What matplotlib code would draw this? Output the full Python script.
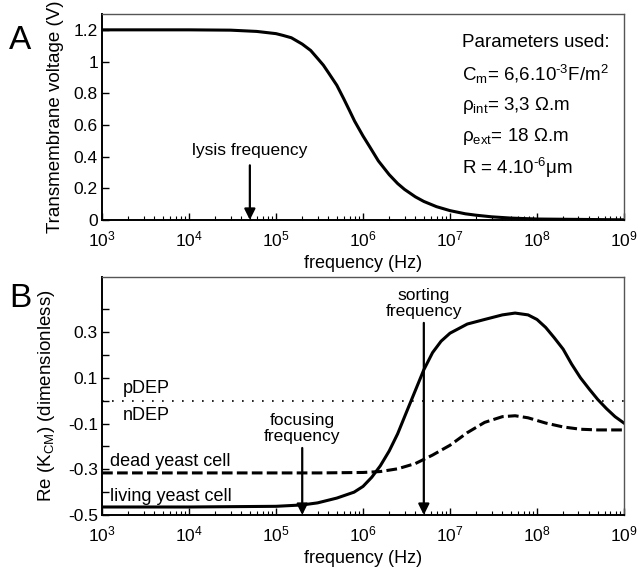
import matplotlib
matplotlib.use("Agg")
import matplotlib.pyplot as plt
import numpy as np
from matplotlib.ticker import LogLocator, NullFormatter

plt.rcParams['font.family'] = ['Liberation Sans', 'DejaVu Sans']
plt.rcParams['mathtext.fontset'] = 'custom'
plt.rcParams['mathtext.rm'] = 'Liberation Sans'
plt.rcParams['mathtext.it'] = 'Liberation Sans:italic'
plt.rcParams['mathtext.bf'] = 'Liberation Sans:bold'

# panel A: transmembrane voltage vs frequency
freq_a = [1e3, 1e4, 3e4, 6e4, 1e5, 1.2e5, 1.5e5, 2e5, 2.5e5, 3e5, 3.5e5,
          4e5, 5e5, 6e5, 7e5, 8e5, 1e6, 1.2e6, 1.5e6, 2e6, 2.5e6, 3e6, 4e6,
          5e6, 7e6, 1e7, 1.5e7, 2e7, 3e7, 5e7, 1e8, 1e9]
volt_a = [1.2, 1.2, 1.198, 1.19, 1.176, 1.165, 1.15, 1.11, 1.07, 1.02, 0.977,
          0.93, 0.85, 0.765, 0.69, 0.624, 0.53, 0.46, 0.373, 0.286, 0.23,
          0.193, 0.146, 0.117, 0.084, 0.059, 0.039, 0.03, 0.02, 0.012,
          0.006, 0.001]
lysis_freq = 5e4

# panel B: Re(K_CM) for living / dead yeast cells
freq_live = [1e3, 1e4, 1e5, 2e5, 3e5, 5e5, 7.9e5, 1e6, 1.26e6, 1.58e6, 2e6,
             2.5e6, 3.16e6, 4e6, 5e6, 6.3e6, 7.9e6, 1e7, 1.58e7, 2.5e7, 4e7,
             5.6e7, 7.9e7, 1e8, 1.26e8, 1.58e8, 2e8, 2.5e8, 3.16e8, 4e8,
             5e8, 6.3e8, 7.9e8, 1e9]
re_live = [-0.465, -0.465, -0.462, -0.456, -0.447, -0.426, -0.4, -0.375,
           -0.335, -0.285, -0.22, -0.145, -0.05, 0.045, 0.135, 0.21, 0.26,
           0.295, 0.335, 0.355, 0.375, 0.383, 0.375, 0.355, 0.32, 0.275,
           0.225, 0.16, 0.1, 0.05, 0.005, -0.035, -0.07, -0.098]
freq_dead = [1e3, 1e5, 3.16e5, 1e6, 1.58e6, 2.5e6, 4e6, 6.3e6, 1e7, 1.58e7,
             2.5e7, 4e7, 5.6e7, 7.9e7, 1.26e8, 2e8, 3.16e8, 5e8, 1e9]
re_dead = [-0.316, -0.316, -0.316, -0.314, -0.31, -0.298, -0.275, -0.238,
           -0.195, -0.14, -0.095, -0.07, -0.066, -0.075, -0.098, -0.115,
           -0.125, -0.128, -0.128]
focus_freq = 2e5
sort_freq = 5e6

params = ["Parameters used:",
          r"C$_\mathrm{m}$= 6,6.10$^{\mathrm{‐3}}$F/m$^\mathrm{2}$",
          r"ρ$_\mathrm{int}$= 3,3 Ω.m",
          r"ρ$_\mathrm{ext}$= 18 Ω.m",
          r"R = 4.10$^\mathrm{‐6}$μm"]

xticks = [1e3, 1e4, 1e5, 1e6, 1e7, 1e8, 1e9]
xticklabels = [r"10$^\mathrm{%d}$" % int(np.log10(t)) for t in xticks]


def style_axis(ax):
    ax.set_xscale("log")
    ax.set_xlim(1e3, 1e9)
    ax.set_xticks(xticks)
    ax.set_xticklabels(xticklabels)
    ax.xaxis.set_minor_locator(LogLocator(base=10, subs=np.arange(2, 10)))
    ax.xaxis.set_minor_formatter(NullFormatter())
    ax.tick_params(axis="both", which="major", direction="in", length=5,
                   width=1, labelsize=12.5, top=False, right=False)
    ax.tick_params(axis="both", which="minor", direction="in", length=3,
                   width=0.8, top=False, right=False)
    ax.tick_params(axis="x", pad=7)
    ax.tick_params(axis="y", pad=3)
    for side in ["top", "right"]:
        ax.spines[side].set_color("#555555")
        ax.spines[side].set_linewidth(1)
    for side in ["left", "bottom"]:
        ax.spines[side].set_linewidth(1.4)
    ax.set_xlabel("frequency (Hz)", fontsize=13, labelpad=4)


arrow = dict(arrowstyle="-|>,head_length=0.5,head_width=0.25", lw=1.6,
             color="black", mutation_scale=13, shrinkA=0, shrinkB=0)

fig = plt.figure(figsize=(6.38, 5.69), dpi=100)
ax1 = fig.add_axes([0.16, 0.6134, 0.818, 0.362])
ax2 = fig.add_axes([0.16, 0.0949, 0.818, 0.418])

# --- panel A
ax1.plot(freq_a, volt_a, color="black", lw=2.2)
ax1.set_ylim(0, 1.3)
ax1.set_yticks([0, 0.2, 0.4, 0.6, 0.8, 1, 1.2])
ax1.set_yticklabels(["0", "0.2", "0.4", "0.6", "0.8", "1", "1.2"])
style_axis(ax1)
ax1.set_ylabel("Transmembrane voltage (V)", fontsize=13.5, labelpad=7)
ax1.annotate("", xy=(lysis_freq, 0.0), xytext=(lysis_freq, 0.345),
             arrowprops=arrow)
ax1.text(lysis_freq, 0.39, "lysis frequency", ha="center", va="bottom",
         fontsize=12.5)
for i, line in enumerate(params):
    ax1.text(0.69, 0.86 - 0.152 * i, line, transform=ax1.transAxes,
             ha="left", va="center", fontsize=13.5)
fig.text(0.014, 0.928, "A", fontsize=24, ha="left", va="center")

# --- panel B
ax2.plot(freq_live, re_live, color="black", lw=2.2)
ax2.plot(freq_dead, re_dead, color="black", lw=2.2, ls=(0, (3.5, 1.4)))
ax2.axhline(0, color="black", lw=1.2, ls=(0, (1, 5)))
ax2.set_ylim(-0.5, 0.54)
ax2.set_yticks(np.round(np.arange(-0.5, 0.45, 0.1), 1))
ax2.set_yticklabels(["-0.5", "", "-0.3", "", "-0.1", "", "0.1", "", "0.3", ""])
style_axis(ax2)
ax2.set_ylabel(r"Re (K$_\mathrm{CM}$) (dimensionless)", fontsize=13.5,
               labelpad=8)
ax2.annotate("", xy=(focus_freq, -0.5), xytext=(focus_freq, -0.207),
             arrowprops=arrow)
ax2.annotate("", xy=(sort_freq, -0.5), xytext=(sort_freq, 0.34),
             arrowprops=arrow)
ax2.text(focus_freq, -0.19, "focusing\nfrequency", ha="center", va="bottom",
         fontsize=12.5, linespacing=1.1)
ax2.text(sort_freq, 0.355, "sorting\nfrequency", ha="center", va="bottom",
         fontsize=12.5, linespacing=1.1)
ax2.text(1.75e3, 0.055, "pDEP", ha="left", va="center", fontsize=13)
ax2.text(1.75e3, -0.067, "nDEP", ha="left", va="center", fontsize=13)
ax2.text(1.24e3, -0.264, "dead yeast cell", ha="left", va="center",
         fontsize=13)
ax2.text(1.24e3, -0.417, "living yeast cell", ha="left", va="center",
         fontsize=13)
fig.text(0.014, 0.475, "B", fontsize=24, ha="left", va="center")

fig.savefig("out.png", dpi=100)
